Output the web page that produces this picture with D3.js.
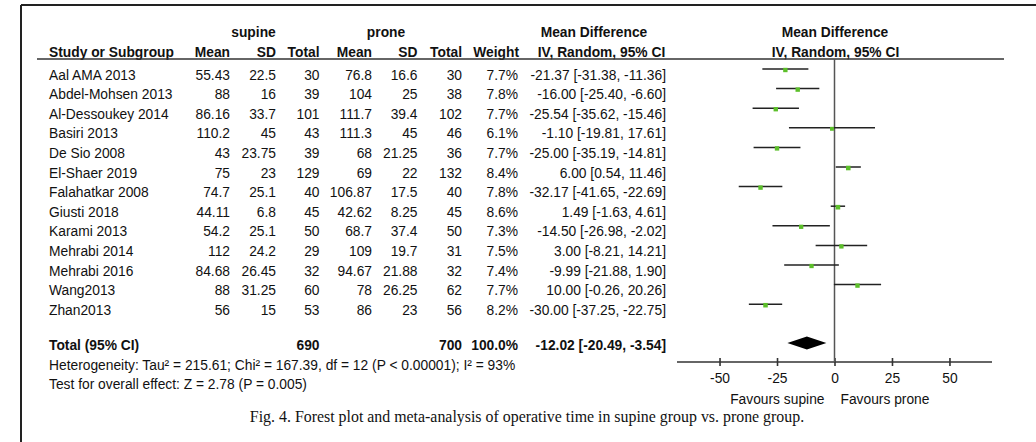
<!DOCTYPE html>
<html>
<head>
<meta charset="utf-8">
<script src="https://cdn.jsdelivr.net/npm/d3@7"></script>
<style>
  html, body { margin: 0; padding: 0; background: #fff; }
  svg { display: block; }
  text { font-family: "Liberation Sans", Arial, sans-serif; fill: #111; }
</style>
</head>
<body>
<svg id="chart" width="1036" height="442"></svg>
<script>
// Study-level data: operative time, supine vs prone
const studies = ["Aal AMA 2013", "Abdel-Mohsen 2013", "Al-Dessoukey 2014", "Basiri 2013", "De Sio 2008",
  "El-Shaer 2019", "Falahatkar 2008", "Giusti 2018", "Karami 2013", "Mehrabi 2014", "Mehrabi 2016",
  "Wang2013", "Zhan2013"];
const supineMean = [55.43, 88, 86.16, 110.2, 43, 75, 74.7, 44.11, 54.2, 112, 84.68, 88, 56];
const supineSD = [22.5, 16, 33.7, 45, 23.75, 23, 25.1, 6.8, 25.1, 24.2, 26.45, 31.25, 15];
const supineN = [30, 39, 101, 43, 39, 129, 40, 45, 50, 29, 32, 60, 53];
const proneMean = [76.8, 104, 111.7, 111.3, 68, 69, 106.87, 42.62, 68.7, 109, 94.67, 78, 86];
const proneSD = [16.6, 25, 39.4, 45, 21.25, 22, 17.5, 8.25, 37.4, 19.7, 21.88, 26.25, 23];
const proneN = [30, 38, 102, 46, 36, 132, 40, 45, 50, 31, 32, 62, 56];
const weights = [7.7, 7.8, 7.7, 6.1, 7.7, 8.4, 7.8, 8.6, 7.3, 7.5, 7.4, 7.7, 8.2];
const meanDiff = [-21.37, -16.00, -25.54, -1.10, -25.00, 6.00, -32.17, 1.49, -14.50, 3.00, -9.99, 10.00, -30.00];
const ciLow = [-31.38, -25.40, -35.62, -19.81, -35.19, 0.54, -41.65, -1.63, -26.98, -8.21, -21.88, -0.26, -37.25];
const ciHigh = [-11.36, -6.60, -15.46, 17.61, -14.81, 11.46, -22.69, 4.61, -2.02, 14.21, 1.90, 20.26, -22.75];

// Pooled estimate
const totalSupine = 690;
const totalProne = 700;
const totalWeight = 100.0;
const pooled = { md: -12.02, lo: -20.49, hi: -3.54 };

const axisTicks = [-50, -25, 0, 25, 50];
const axisExtent = [-68.5, 68.5];

const heterogeneityText = "Heterogeneity: Tau\u00B2 = 215.61; Chi\u00B2 = 167.39, df = 12 (P < 0.00001); I\u00B2 = 93%";
const overallText = "Test for overall effect: Z = 2.78 (P = 0.005)";
const captionText = "Fig. 4. Forest plot and meta-analysis of operative time in supine group vs. prone group.";

const svg = d3.select("#chart");
const FS = 13.8;

// Frame (top and left rules)
svg.append("line").attr("x1", 21).attr("x2", 1036).attr("y1", 5).attr("y2", 5)
  .attr("stroke", "#222").attr("stroke-width", 2);
svg.append("line").attr("x1", 21).attr("x2", 21).attr("y1", 5).attr("y2", 442)
  .attr("stroke", "#222").attr("stroke-width", 2);

// Row positions (text baselines)
const rowY = d3.scaleLinear().domain([0, studies.length - 1]).range([79.5, 79.5 + 19.6 * (studies.length - 1)]);
const markOffset = -10.5;

// Forest plot x scale
const x = d3.scaleLinear().domain(axisExtent).range([677, 992]);

// Column anchors
const cols = {
  study: 49, sMean: 230, sSD: 276, sN: 319.5, pMean: 372, pSD: 417.5, pN: 462, weight: 518, ci: 666
};

// Plain hyphen-minus number formatting
const f2 = v => v.toFixed(2);
const ciLabel = (m, l, h) => `${f2(m)} [${f2(l)}, ${f2(h)}]`;

function txt(xp, yp, s, anchor, bold, size) {
  return svg.append("text").attr("x", xp).attr("y", yp)
    .attr("text-anchor", anchor || "start")
    .style("font-size", (size || FS) + "px")
    .style("font-weight", bold ? "bold" : "normal")
    .text(s);
}

// Header
txt(253.5, 37, "supine", "middle", true);
txt(386, 37, "prone", "middle", true);
txt(594, 37, "Mean Difference", "middle", true);
txt(835, 37, "Mean Difference", "middle", true);
txt(cols.study, 56.5, "Study or Subgroup", "start", true);
txt(cols.sMean, 56.5, "Mean", "end", true);
txt(cols.sSD, 56.5, "SD", "end", true);
txt(cols.sN, 56.5, "Total", "end", true);
txt(cols.pMean, 56.5, "Mean", "end", true);
txt(cols.pSD, 56.5, "SD", "end", true);
txt(cols.pN, 56.5, "Total", "end", true);
txt(519, 56.5, "Weight", "end", true);
txt(601.5, 56.5, "IV, Random, 95% CI", "middle", true);
txt(835.5, 56.5, "IV, Random, 95% CI", "middle", true);
svg.append("line").attr("x1", 37).attr("x2", 1004).attr("y1", 59).attr("y2", 59)
  .attr("stroke", "#333").attr("stroke-width", 1.6);

// Table rows
studies.forEach((s, i) => {
  const y = rowY(i);
  txt(cols.study, y, s);
  txt(cols.sMean, y, String(supineMean[i]), "end");
  txt(cols.sSD, y, String(supineSD[i]), "end");
  txt(cols.sN, y, String(supineN[i]), "end");
  txt(cols.pMean, y, String(proneMean[i]), "end");
  txt(cols.pSD, y, String(proneSD[i]), "end");
  txt(cols.pN, y, String(proneN[i]), "end");
  txt(cols.weight, y, weights[i].toFixed(1) + "%", "end");
  txt(cols.ci, y, ciLabel(meanDiff[i], ciLow[i], ciHigh[i]), "end");
});

// Total row
const totalY = 350;
txt(cols.study, totalY, "Total (95% CI)", "start", true);
txt(cols.sN, totalY, String(totalSupine), "end", true);
txt(cols.pN, totalY, String(totalProne), "end", true);
txt(cols.weight, totalY, totalWeight.toFixed(1) + "%", "end", true);
txt(cols.ci, totalY, ciLabel(pooled.md, pooled.lo, pooled.hi), "end", true);
txt(cols.study, 369.5, heterogeneityText);
txt(cols.study, 388.5, overallText);

// Axis
const axisY = 362;
const axisG = svg.append("g").attr("transform", `translate(0,${axisY})`)
  .call(d3.axisBottom(x).tickValues(axisTicks).tickSize(4).tickSizeOuter(0));
axisG.select(".domain").attr("stroke", "#333").attr("stroke-width", 1.6).attr("d", `M${x(axisExtent[0])},0H${x(axisExtent[1])}`);
axisG.selectAll(".tick line").attr("y1", -4).attr("y2", 4).attr("stroke", "#333").attr("stroke-width", 1.6);
axisG.selectAll(".tick text").attr("y", 21).attr("dy", null)
  .style("font-family", '"Liberation Sans", Arial, sans-serif').style("font-size", FS + "px").attr("fill", "#111")
  .text(d => String(d));

txt(x(0) - 10, 403.5, "Favours supine", "end");
txt(x(0) + 6, 403.5, "Favours prone", "start");

// Zero line
svg.append("line").attr("x1", x(0)).attr("x2", x(0)).attr("y1", 59).attr("y2", axisY)
  .attr("stroke", "#555").attr("stroke-width", 1.5);

// Confidence intervals and point estimates
const sq = d3.scaleSqrt().domain([0, 10]).range([0, 5]);
const marks = svg.append("g");
studies.forEach((s, i) => {
  const y = rowY(i) + markOffset;
  marks.append("line").attr("x1", x(ciLow[i])).attr("x2", x(ciHigh[i])).attr("y1", y).attr("y2", y)
    .attr("stroke", "#222").attr("stroke-width", 1.5);
  const r = sq(weights[i]);
  marks.append("rect").attr("x", x(meanDiff[i]) - r / 2).attr("y", y - r / 2 + 1)
    .attr("width", r).attr("height", r).attr("fill", "#5cbf2a");
});

// Pooled diamond
const dy = 343;
svg.append("path")
  .attr("d", `M${x(pooled.lo)},${dy}L${x(pooled.md)},${dy - 6.5}L${x(pooled.hi)},${dy}L${x(pooled.md)},${dy + 6.5}Z`)
  .attr("fill", "#000");

// Caption
svg.append("text").attr("x", 527).attr("y", 422).attr("text-anchor", "middle")
  .style("font-family", '"Liberation Serif", "Times New Roman", serif').style("font-size", "15.9px")
  .attr("fill", "#222").text(captionText);
</script>
</body>
</html>
